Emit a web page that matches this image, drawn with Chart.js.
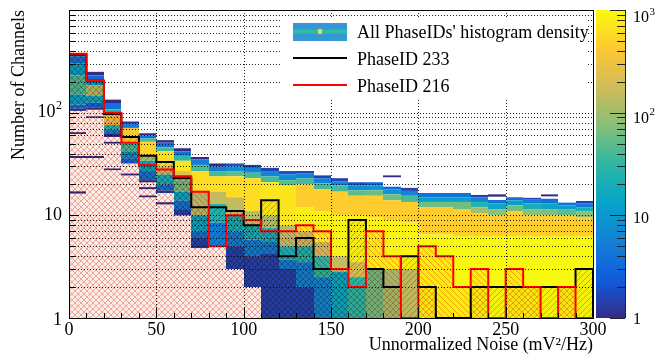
<!DOCTYPE html>
<html>
<head>
<meta charset="utf-8">
<script src="https://cdn.jsdelivr.net/npm/chart.js@4.4.1/dist/chart.umd.min.js"></script>
<style>
html,body{margin:0;padding:0;background:#fff;overflow:hidden;}
#wrap{position:relative;width:664px;height:354px;}
canvas{display:block;}
</style>
</head>
<body>
<div id="wrap"><canvas id="chart" width="664" height="354"></canvas></div>
<script>
// ================= DATA =================
const binLow = [0,10,20,30,40,50,60,70,80,90,100,110,120,130,140,150,160,170,180,190,200,210,220,230,240,250,260,270,280,290];
const binWidth = 10;
// Number of channels per noise bin for the two highlighted PhaseIDs
const phaseID233 = [370,205,97,58,38,33,23,12,12,11,8,14,4,6,3,3,9,3,2,4,2,1,1,2,2,2,2,2,2,3];
const phaseID216 = [375,205,100,51,31,28,24,17,5,10,9,7,7,8,7,3,2,7,4,1,5,4,2,3,1,3,2,1,2,1];
// 2D density of all PhaseIDs: [binLow, channelsLow, channelsHigh, number of PhaseIDs]
const densityCells = [
 [0,355,377,1],[0,300,355,4],[0,230,300,12],[0,150,230,40],[0,120,150,12],[0,110,120,4],[0,104,110,1.5],
 [0,62,64.5,1],[0,36.2,37.8,1],[0,16.3,17.1,1],
 [10,230,250,1],[10,205,230,3],[10,185,205,10],[10,145,185,100],[10,125,145,15],[10,112,125,3],[10,107,112,1],
 [10,89,92,1],[10,36.2,37.8,1],
 [20,122,134,1],[20,108,122,4],[20,100,108,30],[20,76,100,250],[20,68,76,30],[20,62,68,5],[20,58,62,1],
 [20,50,52,1],[20,27.6,28.6,1],
 [30,78,82,1],[30,71,78,5],[30,50,71,350],[30,42,50,40],[30,36,42,8],[30,32,36,3],[30,24.5,25.5,1],
 [40,60,63,1],[40,56,60,4],[40,52,56,40],[40,38,52,500],[40,34,38,100],[40,27,34,15],[40,22,27,4],[40,21,22,1],
 [40,18,18.8,1],[40,15,15.6,1],
 [50,51,54,1],[50,46,51,4],[50,42,46,40],[50,30,42,600],[50,25,30,150],[50,20,25,20],[50,17.5,20,4],[50,16.5,17.5,1.5],
 [50,12.8,13.4,1],
 [60,42,45,1],[60,38,42,4],[60,34,38,30],[60,27,34,700],[60,22,27,250],[60,17,22,60],[60,14,17,15],[60,11.5,14,4],[60,10,11.5,1.5],
 [70,35,37,1],[70,31,35,5],[70,27,31,40],[70,17,27,600],[70,10,17,120],[70,7,10,15],[70,6,7,4],[70,4.8,6,1.5],
 [80,30,32,1],[80,27,30,5],[80,24,27,40],[80,17,24,600],[80,13,17,150],[80,8.5,13,25],[80,5,8.5,5],
 [90,30,32,2],[90,27,30,8],[90,24,27,50],[90,15,24,600],[90,10,15,150],[90,7,10,20],[90,5,7,5],[90,3,5,1.5],
 [100,29,31,1.5],[100,26,29,6],[100,23,26,40],[100,11,23,600],[100,8,11,120],[100,5.8,8,20],[100,4,5.8,5],[100,2,4,1.5],
 [110,27,29,1.5],[110,24,27,6],[110,21,24,40],[110,10,21,700],[110,7.5,10,120],[110,5.5,7.5,20],[110,4.2,5.5,5],[110,1,4.2,1.5],
 [120,25,27,2],[120,22,25,8],[120,19.5,22,50],[120,8,19.5,700],[120,5,8,120],[120,3.7,5,20],[120,3,3.7,5],[120,1,3,1.5],
 [130,25.5,27,1.5],[130,23,25.5,6],[130,20,23,40],[130,12,20,450],[130,7,12,800],[130,5,7,150],[130,3.5,5,25],[130,2,3.5,5],[130,1,2,1.5],
 [140,23,24.5,1.5],[140,20.5,23,6],[140,18,20.5,40],[140,11,18,450],[140,5.5,11,850],[140,4,5.5,150],[140,2.5,4,30],[140,1,2.5,6],
 [150,21.5,23,1.5],[150,19.5,21.5,6],[150,17,19.5,40],[150,10,17,450],[150,4,10,850],[150,2.8,4,150],[150,1,2.8,15],
 [160,19.5,21,2],[160,17.5,19.5,8],[160,15.5,17.5,50],[160,10,15.5,450],[160,3.5,10,850],[160,2.5,3.5,200],[160,1,2.5,30],
 [170,19.5,21,3],[170,17.5,19.5,10],[170,15.5,17.5,60],[170,9.5,15.5,450],[170,3,9.5,850],[170,1,3,60],
 [180,23.5,24.5,1],[180,17.8,19,3],[180,16,17.8,10],[180,14,16,60],[180,9,14,450],[180,3,9,850],[180,1,3,100],
 [190,17.3,18.5,1.5],[190,15.5,17.3,6],[190,13.5,15.5,40],[190,8.5,13.5,450],[190,3,8.5,850],[190,1,3,150],
 [200,15,16.5,4],[200,13.5,15,12],[200,12,13.5,60],[200,6.5,12,450],[200,1,6.5,900],
 [210,15,16.5,4],[210,13.5,15,12],[210,12,13.5,60],[210,6.5,12,450],[210,1,6.5,900],
 [220,15,16.5,4],[220,13.5,15,12],[220,11.5,13.5,60],[220,6.3,11.5,450],[220,1,6.3,950],
 [230,15,15.8,1.5],[230,13.5,15,6],[230,12,13.5,25],[230,10.5,12,100],[230,6.3,10.5,450],[230,1,6.3,950],
 [240,15.2,16,1],[240,13,14.1,4],[240,11.5,13,15],[240,10,11.5,80],[240,6.3,10,450],[240,1,6.3,950],
 [250,14,15,4],[250,12.5,14,12],[250,11,12.5,60],[250,6.3,11,450],[250,1,6.3,950],
 [260,14.2,14.8,1.5],[260,13,14.2,5],[260,11.5,13,20],[260,10,11.5,80],[260,6.3,10,450],[260,1,6.3,950],
 [270,15.3,16,1],[270,13,14.5,4],[270,11.5,13,15],[270,10,11.5,70],[270,6.3,10,450],[270,1,6.3,950],
 [280,12.5,13.3,4],[280,11.5,12.5,12],[280,10,11.5,50],[280,6.3,10,450],[280,1,6.3,950],
 [290,13,13.8,1.5],[290,12,13,5],[290,11,12,20],[290,9.5,11,80],[290,6.3,9.5,450],[290,1,6.3,950]
];
const xTickValues = [0,50,100,150,200,250,300];
const yTickValues = [1,10,100];
const yTickBase = ['1','10','10'];
const yTickSup  = ['','','2'];
const zTickValues = [1,10,100,1000];
const zTickBase = ['1','10','10','10'];
const zTickSup  = ['','','2','3'];
const legendLabels = ["All PhaseIDs' histogram density","PhaseID 233","PhaseID 216"];
const xTitle = 'Unnormalized Noise (mV\u00B2/Hz)';
const yTitle = 'Number of Channels';

// ================= STYLE =================
const FONT = "'Liberation Serif','Times New Roman',serif";
const birdStops = [0,0.125,0.25,0.375,0.5,0.625,0.75,0.875,1];
const birdR = [0.2082,0.0592,0.0780,0.0232,0.1802,0.5301,0.8186,0.9956,0.9764];
const birdG = [0.1664,0.3599,0.5041,0.6419,0.7178,0.7492,0.7328,0.7862,0.9832];
const birdB = [0.5293,0.8684,0.8385,0.7914,0.6425,0.4662,0.3499,0.1968,0.0539];
function bird(f){
  f = Math.max(0, Math.min(1, f));
  let i = 0; while (i < birdStops.length-2 && f > birdStops[i+1]) i++;
  const t = (f - birdStops[i]) / (birdStops[i+1]-birdStops[i]);
  const c = (a) => Math.round(255*(a[i] + (a[i+1]-a[i])*t));
  return `rgb(${c(birdR)},${c(birdG)},${c(birdB)})`;
}
const zMin = 1, zMax = 1000;
function zColor(z){ return bird(Math.log10(z/zMin)/Math.log10(zMax/zMin)); }

const mainCanvas = document.getElementById('chart');
const mainCtx = mainCanvas.getContext('2d');
// hatch tile: drawn with 'multiply' blending so it tints colours like a ROOT hatched fill
function hatch(bg, color, forward){
  const c = document.createElement('canvas'); c.width = 6; c.height = 6;
  const g = c.getContext('2d');
  g.fillStyle = bg; g.fillRect(0, 0, 6, 6);
  g.strokeStyle = color; g.lineWidth = 1;
  g.beginPath();
  if (forward){
    g.moveTo(-1,7); g.lineTo(7,-1);
    g.moveTo(-1,1); g.lineTo(1,-1);
    g.moveTo(5,7); g.lineTo(7,5);
  } else {
    g.moveTo(-1,-1); g.lineTo(7,7);
    g.moveTo(-1,5); g.lineTo(1,7);
    g.moveTo(5,-1); g.lineTo(7,1);
  }
  g.stroke();
  return mainCtx.createPattern(c, 'repeat');
}

function stepPoints(vals){
  const n = vals.length;
  const pts = [{x: binLow[0], y: 1}];
  for (let i = 0; i < n; i++) pts.push({x: binLow[i], y: vals[i]});
  pts.push({x: binLow[n-1] + binWidth, y: vals[n-1]});
  pts.push({x: binLow[n-1] + binWidth, y: 1});
  return pts;
}

function supText(ctx, x, y, base, sup, align, size){
  const ss = Math.round(size*0.68);
  ctx.font = `${size}px ${FONT}`;
  const wb = ctx.measureText(base).width;
  ctx.font = `${ss}px ${FONT}`;
  const ws = sup ? ctx.measureText(sup).width + 0.5 : 0;
  let x0 = x;
  if (align === 'right') x0 = x - wb - ws;
  else if (align === 'center') x0 = x - (wb+ws)/2;
  ctx.textAlign = 'left'; ctx.textBaseline = 'middle'; ctx.fillStyle = '#000';
  ctx.font = `${size}px ${FONT}`; ctx.fillText(base, x0, y);
  if (sup){ ctx.font = `${ss}px ${FONT}`; ctx.fillText(sup, x0 + wb + 0.5, y - size*0.38); }
}

const densityPlugin = {
  id: 'density',
  beforeDatasetsDraw(chart){
    const {ctx, chartArea: a, scales: {x, y}} = chart;
    ctx.save();
    ctx.beginPath(); ctx.rect(a.left, a.top, a.right-a.left, a.bottom-a.top); ctx.clip();
    for (const [xl, lo, hi, z] of densityCells){
      const x0 = Math.round(x.getPixelForValue(xl));
      const x1 = Math.round(x.getPixelForValue(xl + binWidth));
      const y0 = y.getPixelForValue(hi);
      const y1 = y.getPixelForValue(lo);
      ctx.fillStyle = zColor(z);
      ctx.fillRect(x0, y0, x1-x0, y1-y0);
    }
    ctx.restore();
    // fills (drawn by the filler plugin right before each dataset) use multiply blending
    ctx.globalCompositeOperation = 'multiply';
  },
  beforeDatasetDraw(chart){ chart.ctx.globalCompositeOperation = 'source-over'; },
  afterDatasetDraw(chart){ chart.ctx.globalCompositeOperation = 'multiply'; },
  afterDatasetsDraw(chart){ chart.ctx.globalCompositeOperation = 'source-over'; }
};

const decorPlugin = {
  id: 'decor',
  afterDraw(chart){
    const {ctx, chartArea: a, scales: {x, y}} = chart;
    ctx.save();
    ctx.globalCompositeOperation = 'source-over';
    // dotted grid
    ctx.strokeStyle = 'rgba(0,0,0,0.85)'; ctx.lineWidth = 1; ctx.setLineDash([1,2]);
    ctx.beginPath();
    for (let d = 1; d < 1000; d *= 10){
      for (let m = 1; m <= 9; m++){
        const v = m*d; if (v <= 1 || v >= 1000) continue;
        const py = Math.round(y.getPixelForValue(v)) + 0.5;
        ctx.moveTo(a.left, py); ctx.lineTo(a.right, py);
      }
    }
    for (const v of xTickValues){
      if (v <= 0 || v >= 300) continue;
      const px = Math.round(x.getPixelForValue(v)) + 0.5;
      ctx.moveTo(px, a.top); ctx.lineTo(px, a.bottom);
    }
    ctx.stroke();
    ctx.setLineDash([]);
    // ticks
    ctx.strokeStyle = '#000'; ctx.lineWidth = 1;
    ctx.beginPath();
    for (let d = 1; d < 1000; d *= 10){
      for (let m = 1; m <= 9; m++){
        const v = m*d; if (v >= 1000) continue;
        const py = Math.round(y.getPixelForValue(v)) + 0.5;
        const len = (m === 1) ? 10 : 6;
        ctx.moveTo(a.left, py); ctx.lineTo(a.left + len, py);
      }
    }
    for (let v = 0; v <= 300; v += 10){
      const px = Math.round(x.getPixelForValue(v)) + 0.5;
      const len = (v % 50 === 0) ? 10 : 5;
      ctx.moveTo(px, a.bottom); ctx.lineTo(px, a.bottom - len);
    }
    ctx.stroke();
    // frame
    ctx.strokeRect(Math.round(a.left)+0.5, Math.round(a.top)+0.5, Math.round(a.right-a.left), Math.round(a.bottom-a.top));
    // axis labels
    xTickValues.forEach(v => supText(ctx, x.getPixelForValue(v), a.bottom + 12, String(v), '', 'center', 18));
    yTickValues.forEach((v,i) => supText(ctx, 62, y.getPixelForValue(v) + (v===1?2:0), yTickBase[i], yTickSup[i], 'right', 18));
    ctx.font = `18px ${FONT}`; ctx.fillStyle = '#000';
    ctx.textAlign = 'right'; ctx.textBaseline = 'alphabetic';
    ctx.fillText(xTitle, a.right, 350);
    ctx.save(); ctx.translate(24, a.top); ctx.rotate(-Math.PI/2);
    ctx.textAlign = 'right'; ctx.textBaseline = 'alphabetic';
    ctx.fillText(yTitle, 0, 0); ctx.restore();
    // colour bar
    const cbL = 596, cbR = 625, cbT = a.top, cbB = a.bottom;
    const grad = ctx.createLinearGradient(0, cbB, 0, cbT);
    for (let k = 0; k <= 64; k++) grad.addColorStop(k/64, bird(k/64));
    ctx.fillStyle = grad; ctx.fillRect(cbL, cbT, cbR-cbL, cbB-cbT);
    const zPix = (z) => cbB - (cbB-cbT)*Math.log10(z/zMin)/Math.log10(zMax/zMin);
    ctx.strokeStyle = '#222'; ctx.beginPath();
    ctx.moveTo(cbR+0.5, cbT); ctx.lineTo(cbR+0.5, cbB);
    for (let d = 1; d <= 1000; d *= 10){
      for (let m = 1; m <= 9; m++){
        const v = m*d; if (v > 1000) break;
        const py = Math.round(zPix(v)) + 0.5;
        const len = (m === 1) ? 15 : 8;
        ctx.moveTo(cbR, py); ctx.lineTo(cbR - len, py);
      }
    }
    ctx.stroke();
    const zOff = [2, 3, 6, 8];
    zTickValues.forEach((v,i) => supText(ctx, 633, zPix(v) + zOff[i], zTickBase[i], zTickSup[i], 'left', 16));
    // legend
    ctx.fillStyle = '#fff'; ctx.fillRect(282, 17, 306, 81);
    ctx.fillStyle = 'rgb(52,152,212)'; ctx.fillRect(293, 23, 54, 18);
    ctx.fillStyle = 'rgb(44,190,168)'; ctx.fillRect(293, 29.5, 54, 4);
    ctx.fillStyle = 'rgb(250,214,40)'; ctx.fillRect(318, 29, 4, 5);
    ctx.lineWidth = 2;
    ctx.strokeStyle = '#000'; ctx.beginPath(); ctx.moveTo(293, 58); ctx.lineTo(347, 58); ctx.stroke();
    ctx.strokeStyle = '#ff0000'; ctx.beginPath(); ctx.moveTo(293, 85); ctx.lineTo(347, 85); ctx.stroke();
    ctx.fillStyle = '#000'; ctx.font = `18px ${FONT}`; ctx.textAlign = 'left'; ctx.textBaseline = 'alphabetic';
    ctx.fillText(legendLabels[0], 357, 38);
    ctx.fillText(legendLabels[1], 357, 65);
    ctx.fillText(legendLabels[2], 357, 91.5);
    ctx.restore();
  }
};

new Chart(mainCanvas, {
  type: 'line',
  data: {
    datasets: [
      {
        label: legendLabels[2], data: stepPoints(phaseID216), stepped: true,
        borderColor: '#ff0000', borderWidth: 2, pointRadius: 0,
        fill: 'start', backgroundColor: hatch('rgb(255,244,238)', 'rgb(248,170,170)', false)
      },
      {
        label: legendLabels[1], data: stepPoints(phaseID233), stepped: true,
        borderColor: '#000000', borderWidth: 2, pointRadius: 0,
        fill: 'start', backgroundColor: hatch('rgb(250,248,244)', 'rgb(205,182,178)', true)
      }
    ]
  },
  options: {
    responsive: false, animation: false, devicePixelRatio: 1,
    layout: {padding: {left: 69, right: 71, top: 10, bottom: 36}},
    plugins: {legend: {display: false}, tooltip: {enabled: false}},
    scales: {
      x: {type: 'linear', min: 0, max: 300, display: false},
      y: {type: 'logarithmic', min: 1, max: 1000, display: false}
    }
  },
  plugins: [densityPlugin, decorPlugin]
});
</script>
</body>
</html>
